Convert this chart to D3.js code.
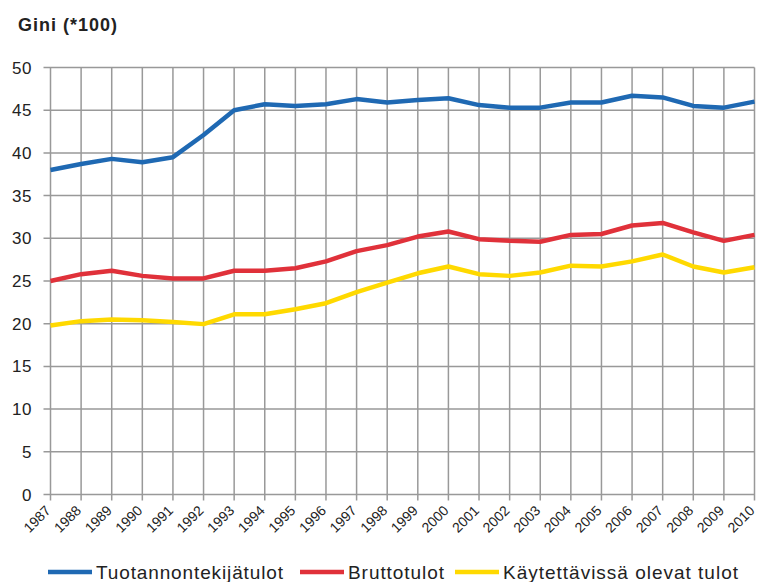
<!DOCTYPE html>
<html lang="fi">
<head>
<meta charset="UTF-8">
<title>Gini</title>
<script src="https://cdn.jsdelivr.net/npm/d3@7"></script>
<style>
    body { margin: 0; background: #fff; }
    text { font-family: "Liberation Sans", Arial, sans-serif; fill: #222; }
    .grid line { stroke: #999; stroke-width: 1.5px; }
</style>
</head>
<body>
<svg width="758" height="582"></svg>
<script>

    // data
    var years = [1987, 1988, 1989, 1990, 1991, 1992, 1993, 1994, 1995, 1996, 1997, 1998,
                 1999, 2000, 2001, 2002, 2003, 2004, 2005, 2006, 2007, 2008, 2009, 2010];

    var tuotannontekijatulot = [38.0, 38.7, 39.3, 38.9, 39.5, 42.1, 45.0, 45.7, 45.5, 45.7, 46.3, 45.9,
                                46.2, 46.4, 45.6, 45.3, 45.3, 45.9, 45.9, 46.7, 46.5, 45.5, 45.3, 46.0];
    var bruttotulot = [25.0, 25.8, 26.2, 25.6, 25.3, 25.3, 26.2, 26.2, 26.5, 27.3, 28.5, 29.2,
                       30.2, 30.8, 29.9, 29.7, 29.6, 30.4, 30.5, 31.5, 31.8, 30.7, 29.7, 30.4];
    var kaytettavissa = [19.8, 20.3, 20.5, 20.4, 20.2, 19.95, 21.1, 21.1, 21.7, 22.4, 23.7, 24.8,
                         25.9, 26.7, 25.8, 25.6, 26.0, 26.8, 26.7, 27.3, 28.1, 26.7, 26.0, 26.6];

    var yTicks = [0, 5, 10, 15, 20, 25, 30, 35, 40, 45, 50];

    var series = [
        { name: "Tuotannontekijätulot", values: tuotannontekijatulot, color: "#1f69b3" },
        { name: "Bruttotulot", values: bruttotulot, color: "#e0313a" },
        { name: "Käytettävissä olevat tulot", values: kaytettavissa, color: "#ffd900" }
    ];

    var svg = d3.select("svg");
    var plotLeft = 50.5, plotRight = 754.5, plotTop = 67.5, plotBottom = 494.5;

    var x = d3.scaleLinear().domain([years[0], years[years.length - 1]]).range([plotLeft, plotRight]);
    var y = d3.scaleLinear().domain([0, 50]).range([plotBottom, plotTop]);

    // grid
    var grid = svg.append("g").attr("class", "grid");
    grid.selectAll(".h").data(yTicks).enter().append("line")
        .attr("x1", plotLeft - 7).attr("x2", plotRight)
        .attr("y1", function(d) { return y(d); })
        .attr("y2", function(d) { return y(d); });
    grid.selectAll(".v").data(years).enter().append("line")
        .attr("x1", function(d) { return x(d); })
        .attr("x2", function(d) { return x(d); })
        .attr("y1", plotTop).attr("y2", plotBottom + 6);

    // y labels
    svg.append("g").selectAll("text").data(yTicks).enter().append("text")
        .attr("x", 32)
        .attr("y", function(d) { return y(d) + 6; })
        .attr("text-anchor", "end")
        .style("font-size", "17px")
        .style("letter-spacing", "0.5px")
        .text(function(d) { return d; });

    // x labels, rotated
    svg.append("g").selectAll("text").data(years).enter().append("text")
        .attr("transform", function(d) { return "translate(" + (x(d) + 1) + "," + (plotBottom + 17) + ") rotate(-45)"; })
        .attr("text-anchor", "end")
        .style("font-size", "14px")
        .text(function(d) { return d; });

    // lines
    var line = d3.line()
        .x(function(d, i) { return x(years[i]); })
        .y(function(d) { return y(d); });

    svg.append("g").selectAll("path").data(series).enter().append("path")
        .attr("d", function(d) { return line(d.values); })
        .attr("fill", "none")
        .attr("stroke", function(d) { return d.color; })
        .attr("stroke-width", 4.5)
        .attr("stroke-linejoin", "round");

    // title
    svg.append("text")
        .attr("x", 18).attr("y", 31)
        .style("font-size", "18px")
        .style("font-weight", "bold")
        .attr("textLength", 99)
        .attr("lengthAdjust", "spacing")
        .text("Gini (*100)");

    // legend
    var legendX = [48, 300, 455];
    var legendW = [187, 96, 235];
    var lg = svg.append("g").selectAll("g").data(series).enter().append("g")
        .attr("transform", function(d, i) { return "translate(" + legendX[i] + ",572)"; });
    lg.append("line")
        .attr("x1", 0).attr("x2", 44)
        .attr("stroke", function(d) { return d.color; })
        .attr("stroke-width", 4.5);
    lg.append("text")
        .attr("x", 48).attr("y", 7)
        .style("font-size", "19px")
        .attr("textLength", function(d, i) { return legendW[i]; })
        .attr("lengthAdjust", "spacing")
        .text(function(d) { return d.name; });

</script>
</body>
</html>
